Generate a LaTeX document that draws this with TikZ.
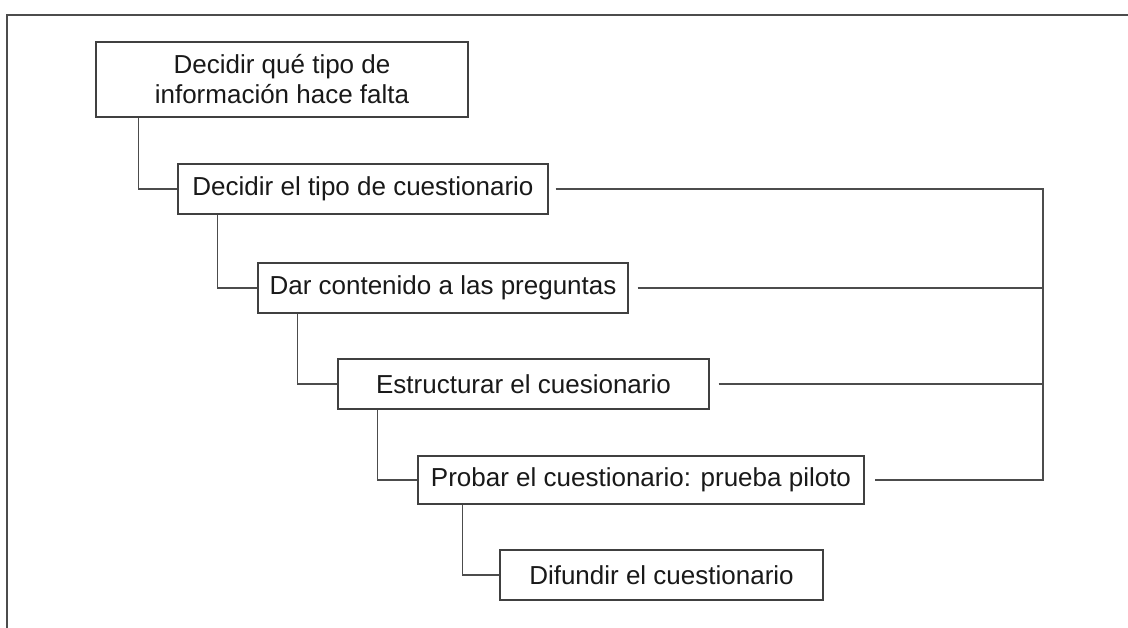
\documentclass[tikz,border=0pt]{standalone}
\usepackage{fontspec}
\setmainfont{Liberation Sans}
\usetikzlibrary{positioning,calc}

\begin{document}
\begin{tikzpicture}[x=1pt, y=-1pt, color=black!70, line width=1.4pt]
	\tikzstyle{paso}=[draw=black!75,fill=white,text=black!90,inner sep=0pt,minimum height=50pt,font=\fontsize{26}{30}\selectfont]
	\useasboundingbox (0,0) rectangle (1128,628);
	% marco
	\draw[line width=2pt] (7,628) -- (7,15) -- (1128,15);

	\node[paso, minimum width=372pt, minimum height=75pt, align=center] (A) at (282,79.5) {Decidir qué tipo de\\información hace falta};
	\node[paso, minimum width=370pt] (B) at (363,189)   {Decidir el tipo de cuestionario};
	\node[paso, minimum width=370pt] (C) at (443,288)   {Dar contenido a las preguntas};
	\node[paso, minimum width=371pt] (D) at (523.5,384) {Estructurar el cuesionario};
	\node[paso, minimum width=446pt, minimum height=48pt] (E) at (641,480) {Probar el cuestionario: prueba piloto};
	\node[paso, minimum width=323pt] (F) at (661.5,575) {Difundir el cuestionario};
	\coordinate (bus) at (1043,0);

	% escalera
	\draw ([xshift=43pt]A.south west) |- (B);
	\draw ([xshift=40pt]B.south west) |- (C);
	\draw ([xshift=40pt]C.south west) |- (D);
	\draw ([xshift=40pt]D.south west) |- (E);
	\draw ([xshift=45pt]E.south west) |- (F);

	% retorno
	\draw ([xshift=7pt]B.east) -- (B.east -| bus) -- (E.east -| bus) -- ([xshift=10pt]E.east);
	\draw ([xshift=9pt]C.east) -- (C.east -| bus);
	\draw ([xshift=9pt]D.east) -- (D.east -| bus);
\end{tikzpicture}
\end{document}
